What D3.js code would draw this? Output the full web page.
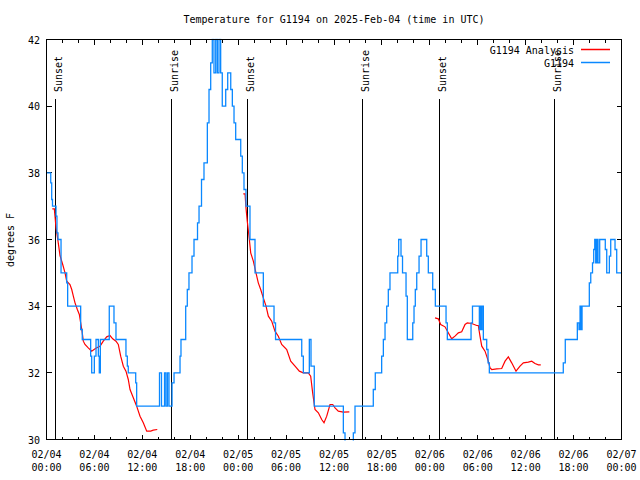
<!DOCTYPE html>
<html>
<head>
<meta charset="utf-8">
<script src="https://cdn.jsdelivr.net/npm/d3@7"></script>
<style>
  html, body { margin: 0; padding: 0; background: #fff; }
  svg { display: block; }
  text { font-family: "DejaVu Sans Mono", "Liberation Mono", monospace; font-size: 10px; fill: #000; }
</style>
</head>
<body>
<svg id="chart" width="640" height="480"></svg>
<script>
// ---- data (hours after 2025-02-04 00:00 UTC) ----
const titleText = "Temperature for G1194 on 2025-Feb-04 (time in UTC)";
const yLabel = "degrees F";
const yTicks = [30, 32, 34, 36, 38, 40, 42];
const seriesNames = ["G1194 Analysis", "G1194"];

const stationHours = [0, 0.53, 0.65, 0.75, 1.19, 1.31, 1.44, 1.82, 2.53, 2.65, 4.28, 4.48, 5.53, 5.66, 5.99, 6.20, 6.49, 6.61, 6.74, 7.86, 8.45, 8.70, 9.95, 10.12, 10.24, 11.17, 11.29,
  14.15, 14.40, 14.78, 14.96, 15.15, 15.34, 15.72, 15.97, 16.72, 16.84, 17.43, 17.63, 17.84, 18.22, 18.47, 18.91, 19.10, 19.41, 19.72, 20.14, 20.35, 20.56,
  20.76, 20.97, 21.19, 21.39, 21.60, 21.81, 22.01, 22.44, 22.69, 23.07, 23.27, 23.48, 23.69, 24.32, 24.52, 24.73, 24.98, 25.48, 26.11, 27.15, 28.49, 28.68,
  31.96, 32.16, 32.91, 33.12, 33.53, 37.17, 37.38, 38.42, 38.63, 40.92, 41.17, 41.97, 42.18, 42.39, 42.60, 42.80, 43.01, 43.98, 44.10, 44.39, 44.58, 45.02, 45.18,
  45.86, 46.02, 46.18, 46.36, 46.65, 46.90, 47.61, 47.81, 48.36, 48.69, 50.03, 50.19, 53.16, 53.34, 54.20, 54.28, 54.41, 54.53, 54.70, 55.12, 55.29, 55.45,
  64.71, 64.96, 66.47, 66.68, 66.81, 66.93, 67.06, 67.97, 68.15, 68.37, 68.52, 68.65, 68.77, 68.93, 69.06, 69.27, 69.97, 70.15, 70.48, 70.65, 71.19, 71.40, 72];
const stationTemps = [38, 37.7, 37.2, 37, 36.7, 36.2, 36, 35, 34.7, 34, 33.3, 33, 32.5, 32, 32.5, 33, 32.5, 32, 33, 34, 33.5, 33, 32.5, 32.2, 32, 31.7, 31,
  32, 31, 32, 31, 32, 31, 31.7, 32, 32.5, 33, 34, 34.5, 35, 35.5, 36, 36.5, 37, 37.8, 38.3, 39.5, 40.5, 41.3,
  42, 41, 42, 41, 42, 41, 40, 40.5, 41, 40.5, 40, 39.5, 39, 38.5, 38, 37.5, 37, 36, 35, 34, 33.5, 33,
  32.5, 32, 33, 32.2, 31, 30.2, 29, 30.2, 31, 31.5, 32, 32.5, 33, 33.5, 34, 34.5, 35, 35.5, 36, 35.5, 35, 34.3, 33,
  33.5, 34, 34.5, 35, 35.5, 36, 35.5, 35, 34.5, 34, 33.5, 33, 33.5, 34, 33.3, 34, 33.3, 34, 33, 32.7, 32.3, 32,
  32.3, 33, 33.5, 33.3, 34, 33.3, 34, 34.7, 35, 35.3, 35.7, 36, 35.3, 36, 35.3, 36, 35.7, 35, 35.5, 36, 35.7, 35, 35];

// null separates the analysis segments
const analysisHours = [0.73, 0.98, 1.10, 1.19, 1.35, 1.53, 1.69, 2.03, 2.32, 2.53, 2.94, 3.16, 3.36, 3.57, 3.86, 4.11, 4.28, 4.45, 4.61, 4.82, 5.23, 5.66, 5.95, 6.29, 6.70,
  7.11, 7.54, 7.95, 8.29, 8.70, 8.99, 9.29, 9.62, 9.95, 10.24, 10.46, 10.87, 11.29, 11.71, 12.12, 12.55, 13.05, 13.37, 13.87, null,
  24.64, 24.86, 24.98, 25.14, 25.40, 25.57, 25.90, 26.23, 26.52, 26.82, 27.15, 27.49, 27.78, 28.20, 28.61, 29.03, 29.45, 30.08, 30.58, 31.12, 31.66, 32.16, 32.78,
  33.08, 33.33, 33.62, 34.04, 34.46, 34.75, 35.09, 35.50, 35.84, 36.13, 36.54, 37.17, 37.92, null,
  48.65, 49.06, 49.36, 49.90, 50.31, 50.74, 51.15, 51.57, 51.99, 52.41, 52.69, 53.24, 53.87, 54.07, 54.28, 54.50, 54.91, 55.12, 55.32, 55.54, 55.75, 56.38,
  57.00, 57.42, 57.83, 58.25, 58.79, 59.29, 59.71, 60.33, 60.76, 61.17, 61.59, 61.89];
const analysisTemps = [36.92, 36.92, 36.6, 36.35, 36.1, 35.8, 35.52, 35.25, 35.0, 34.75, 34.65, 34.5, 34.3, 34.1, 33.9, 33.75, 33.5, 33.25, 32.95, 32.85, 32.75, 32.65, 32.7, 32.75, 32.8,
  32.95, 33.08, 33.12, 33.02, 32.95, 32.85, 32.5, 32.2, 32.05, 31.8, 31.5, 31.25, 31.0, 30.7, 30.5, 30.25, 30.25, 30.28, 30.3, null,
  37.37, 37.37, 36.95, 36.55, 36.0, 35.6, 35.35, 35.0, 34.7, 34.5, 34.25, 34.0, 33.7, 33.55, 33.25, 33.1, 32.85, 32.7, 32.35, 32.2, 32.05, 32.0, 32.0,
  31.9, 31.4, 30.9, 30.8, 30.6, 30.5, 30.7, 31.05, 31.05, 30.95, 30.85, 30.82, 30.83, null,
  33.65, 33.62, 33.45, 33.38, 33.2, 33.02, 33.1, 33.2, 33.23, 33.45, 33.5, 33.48, 33.42, 33.42, 33.1, 32.8, 32.65, 32.5, 32.35, 32.15, 32.1, 32.12,
  32.13, 32.35, 32.48, 32.3, 32.05, 32.2, 32.3, 32.32, 32.35, 32.28, 32.24, 32.24];

const sunEvents = ["Sunset", "Sunrise", "Sunset", "Sunrise", "Sunset", "Sunrise"];
const sunHours = [1.10, 15.63, 25.14, 39.54, 49.19, 63.59];

// ---- drawing ----
(function () {
const t0 = Date.UTC(2025, 1, 4, 0, 0);
const toDate = h => new Date(t0 + h * 3600 * 1000);

const svg = d3.select("#chart");
const pL = 46.5, pR = 621.5, pT = 39.5, pB = 439.5;

const x = d3.scaleUtc().domain([toDate(0), toDate(72)]).range([pL, pR]);
const y = d3.scaleLinear().domain([30, 42]).range([pB, pT]);

svg.append("defs").append("clipPath").attr("id", "clip")
  .append("rect").attr("x", pL - 1).attr("y", pT - 1)
  .attr("width", pR - pL + 2).attr("height", pB - pT + 2);

// title
svg.append("text").attr("x", (pL + pR) / 2).attr("y", 23)
  .attr("text-anchor", "middle").text(titleText);

// y label
svg.append("text").attr("transform", "translate(14,240) rotate(-90)")
  .attr("text-anchor", "middle").text(yLabel);

// ticks
const majorTicks = x.ticks(d3.utcHour.every(6));
const minorTicks = x.ticks(d3.utcHour.every(2)).filter(d => d.getUTCHours() % 6 !== 0);
const tickG = svg.append("g").attr("stroke", "#000").attr("stroke-width", 1).attr("shape-rendering", "crispEdges");
majorTicks.forEach(d => {
  const px = Math.round(x(d) - 0.5) + 0.5;
  tickG.append("line").attr("x1", px).attr("x2", px).attr("y1", pB).attr("y2", pB - 5);
  tickG.append("line").attr("x1", px).attr("x2", px).attr("y1", pT).attr("y2", pT + 5);
});
minorTicks.forEach(d => {
  const px = Math.round(x(d) - 0.5) + 0.5;
  tickG.append("line").attr("x1", px).attr("x2", px).attr("y1", pB).attr("y2", pB - 3);
  tickG.append("line").attr("x1", px).attr("x2", px).attr("y1", pT).attr("y2", pT + 3);
});
yTicks.forEach(v => {
  const py = y(v);
  tickG.append("line").attr("x1", pL).attr("x2", pL + 5).attr("y1", py).attr("y2", py);
  tickG.append("line").attr("x1", pR).attr("x2", pR - 5).attr("y1", py).attr("y2", py);
});

// tick labels
const fmtDate = d3.utcFormat("%m/%d"), fmtTime = d3.utcFormat("%H:%M");
majorTicks.forEach(d => {
  const tx = svg.append("text").attr("text-anchor", "middle");
  tx.append("tspan").attr("x", x(d)).attr("y", 458).text(fmtDate(d));
  tx.append("tspan").attr("x", x(d)).attr("y", 470.5).text(fmtTime(d));
});
yTicks.forEach(v => {
  svg.append("text").attr("x", 40).attr("y", y(v) + 4).attr("text-anchor", "end").text(v);
});

// sun lines
sunHours.forEach((h, i) => {
  const px = Math.round(x(toDate(h)) - 0.5) + 0.5;
  svg.append("line").attr("x1", px).attr("x2", px).attr("y1", 99).attr("y2", pB)
    .attr("stroke", "#000").attr("stroke-width", 1).attr("shape-rendering", "crispEdges");
  svg.append("text").attr("transform", `translate(${px + 6},92) rotate(-90)`)
    .attr("text-anchor", "start").text(sunEvents[i]);
});

// series
const plotG = svg.append("g").attr("clip-path", "url(#clip)");
const stationData = stationHours.map((h, i) => ({ t: toDate(h), v: stationTemps[i] }));
const analysisData = analysisHours.map((h, i) => ({ t: h === null ? null : toDate(h), v: analysisTemps[i] }));

const stepLine = d3.line().x(d => x(d.t)).y(d => y(d.v)).curve(d3.curveStepAfter);
const anaLine = d3.line().defined(d => d.t !== null && d.v !== null)
  .x(d => x(d.t)).y(d => y(d.v));

plotG.append("path").datum(analysisData).attr("d", anaLine)
  .attr("fill", "none").attr("stroke", "#ff0000").attr("stroke-width", 1.2);
plotG.append("path").datum(stationData).attr("d", stepLine)
  .attr("fill", "none").attr("stroke", "#0a88ff").attr("stroke-width", 1.3);

// border
svg.append("rect").attr("x", pL).attr("y", pT).attr("width", pR - pL).attr("height", pB - pT)
  .attr("fill", "none").attr("stroke", "#000").attr("stroke-width", 1).attr("shape-rendering", "crispEdges");

// legend
const legColors = ["#ff0000", "#0a88ff"];
seriesNames.forEach((name, i) => {
  const ly = 50 + i * 13;
  svg.append("text").attr("x", 574).attr("y", ly + 3.5).attr("text-anchor", "end").text(name);
  svg.append("line").attr("x1", 581).attr("x2", 610).attr("y1", ly - 0.5).attr("y2", ly - 0.5)
    .attr("stroke", legColors[i]).attr("stroke-width", 1.5);
});
})();
</script>
</body>
</html>
